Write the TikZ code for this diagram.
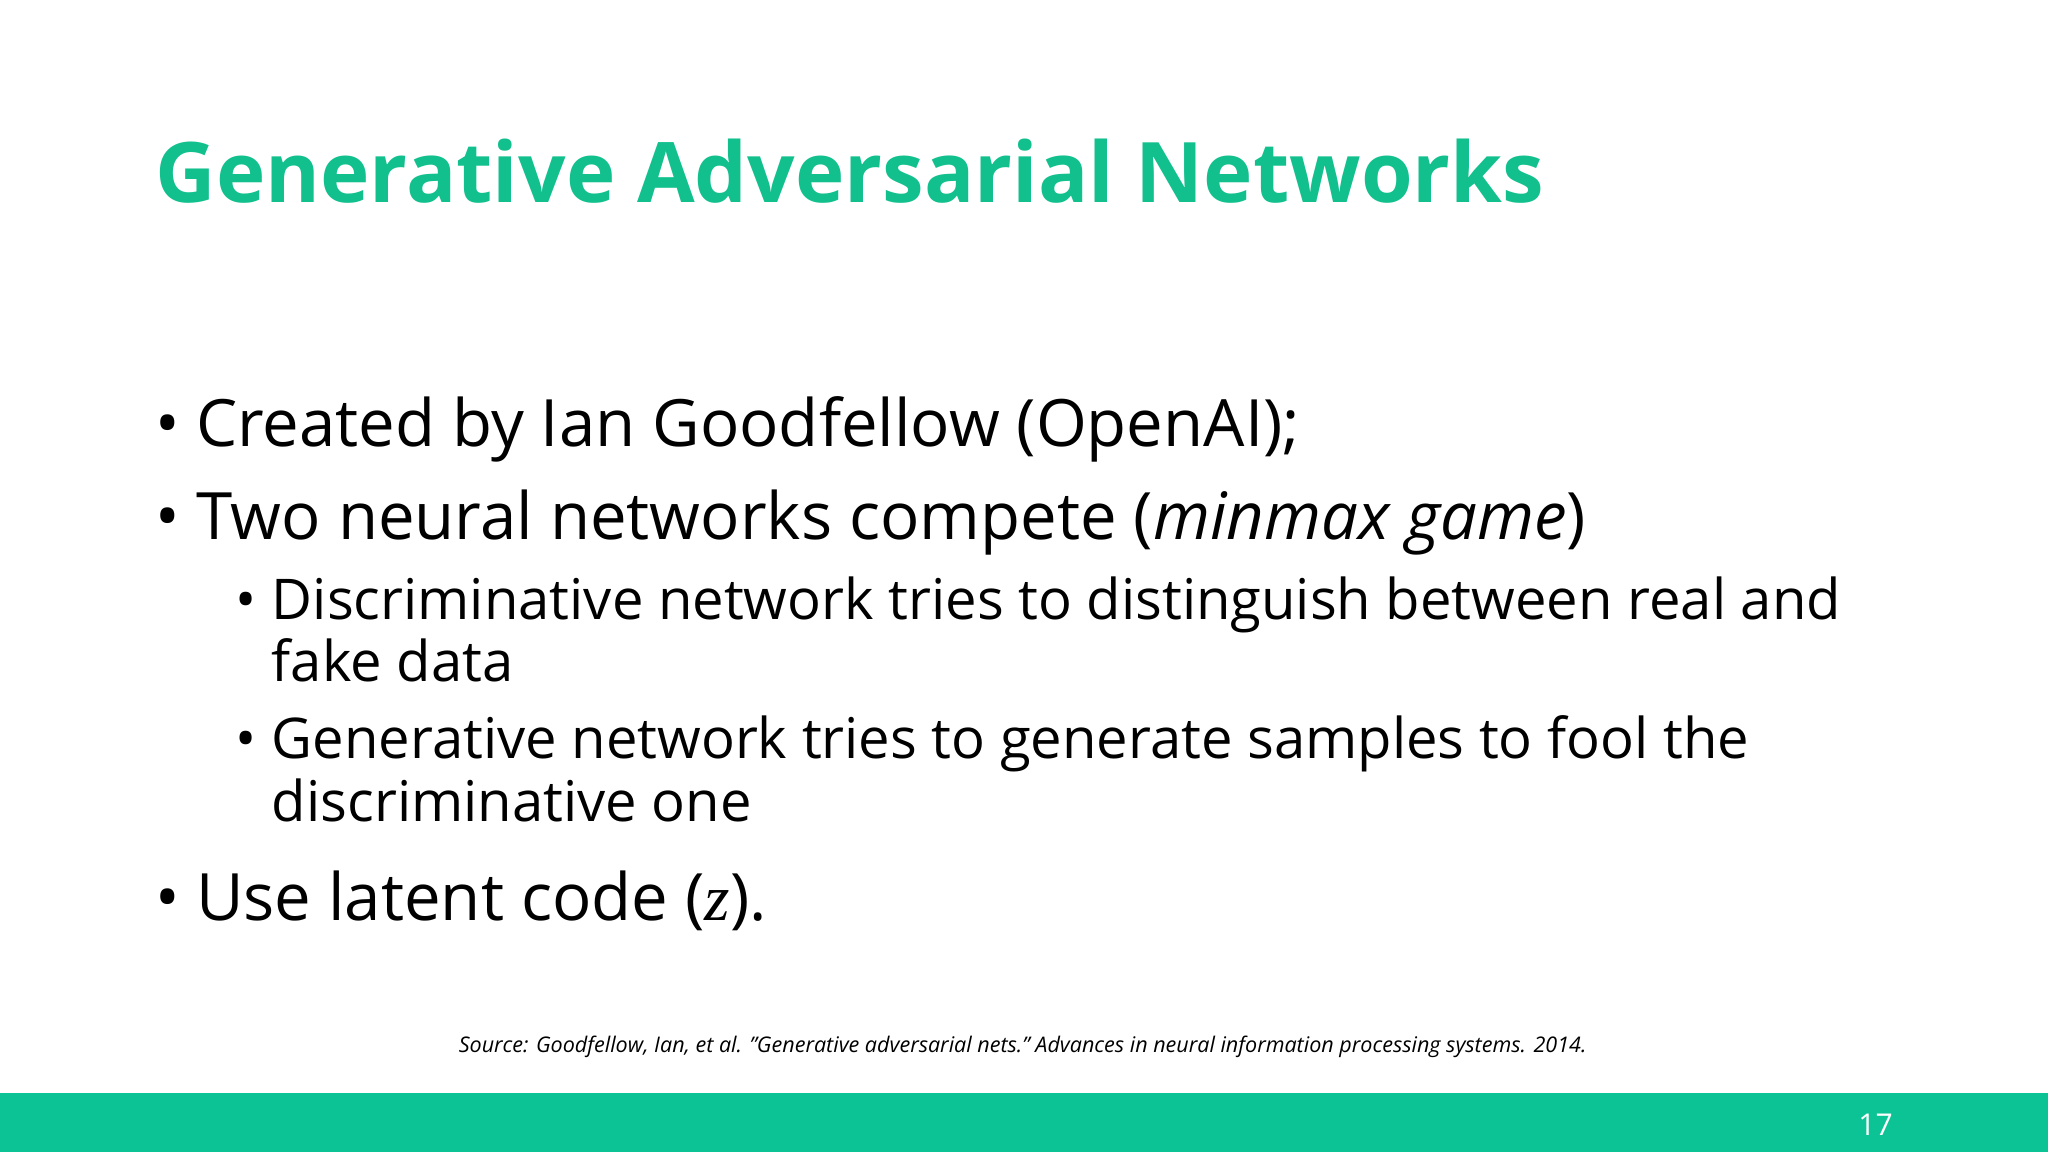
\documentclass[tikz,border=0pt]{standalone}
\usepackage{fontspec}
\setmainfont{Open Sans}
\newfontfamily\zfont{Liberation Serif}
\definecolor{gan}{HTML}{0BC394}
\definecolor{titlec}{HTML}{12C08E}
\begin{document}
\begin{tikzpicture}[x=1pt,y=-1pt,
  txt/.style={anchor=base west,inner sep=0pt,font=\fontsize{50}{56}\selectfont},
  sub/.style={anchor=base west,inner sep=0pt,font=\fontsize{43}{48}\selectfont}]
\useasboundingbox (0,0) rectangle (1568,882);
\fill[white] (0,0) rectangle (1568,882);
\fill[gan] (0,837) rectangle (1568,882);
\node[anchor=base west,inner sep=0pt,text=titlec,font=\fontsize{64}{70}\selectfont\bfseries] (title) at (119,155) {Generative Adversarial Networks};
\node[txt] (b1d) at (119,342) {•};
\node[txt] (b1) at (150,342) {Created by Ian Goodfellow (OpenAI);};
\node[txt] (b2d) at (119,413) {•};
\node[txt] (b2) at (150,413) {Two neural networks compete (\textit{minmax game})};
\node[sub] (s1d) at (180,474) {•};
\node[sub] (s1) at (208,474) {Discriminative network tries to distinguish between real and};
\node[sub] (s1b) at (208,522) {fake data};
\node[sub] (s2d) at (180,581) {•};
\node[sub] (s2) at (208,581) {Generative network tries to generate samples to fool the};
\node[sub] (s2b) at (208,629) {discriminative one};
\node[txt] (b3d) at (119,705) {•};
\node[txt] (b3) at (150,705) {Use latent code ({\zfont\itshape z}).};
\node[anchor=base,inner sep=0pt,font=\fontsize{16.5}{18}\selectfont\itshape] (src) at (783,806) {Source: Goodfellow, Ian, et al. "Generative adversarial nets." Advances in neural information processing systems. 2014.};
\node[anchor=base,inner sep=0pt,text=white,font=\fontsize{23}{25}\selectfont] (pg) at (1436,869) {17};
\end{tikzpicture}
\end{document}
